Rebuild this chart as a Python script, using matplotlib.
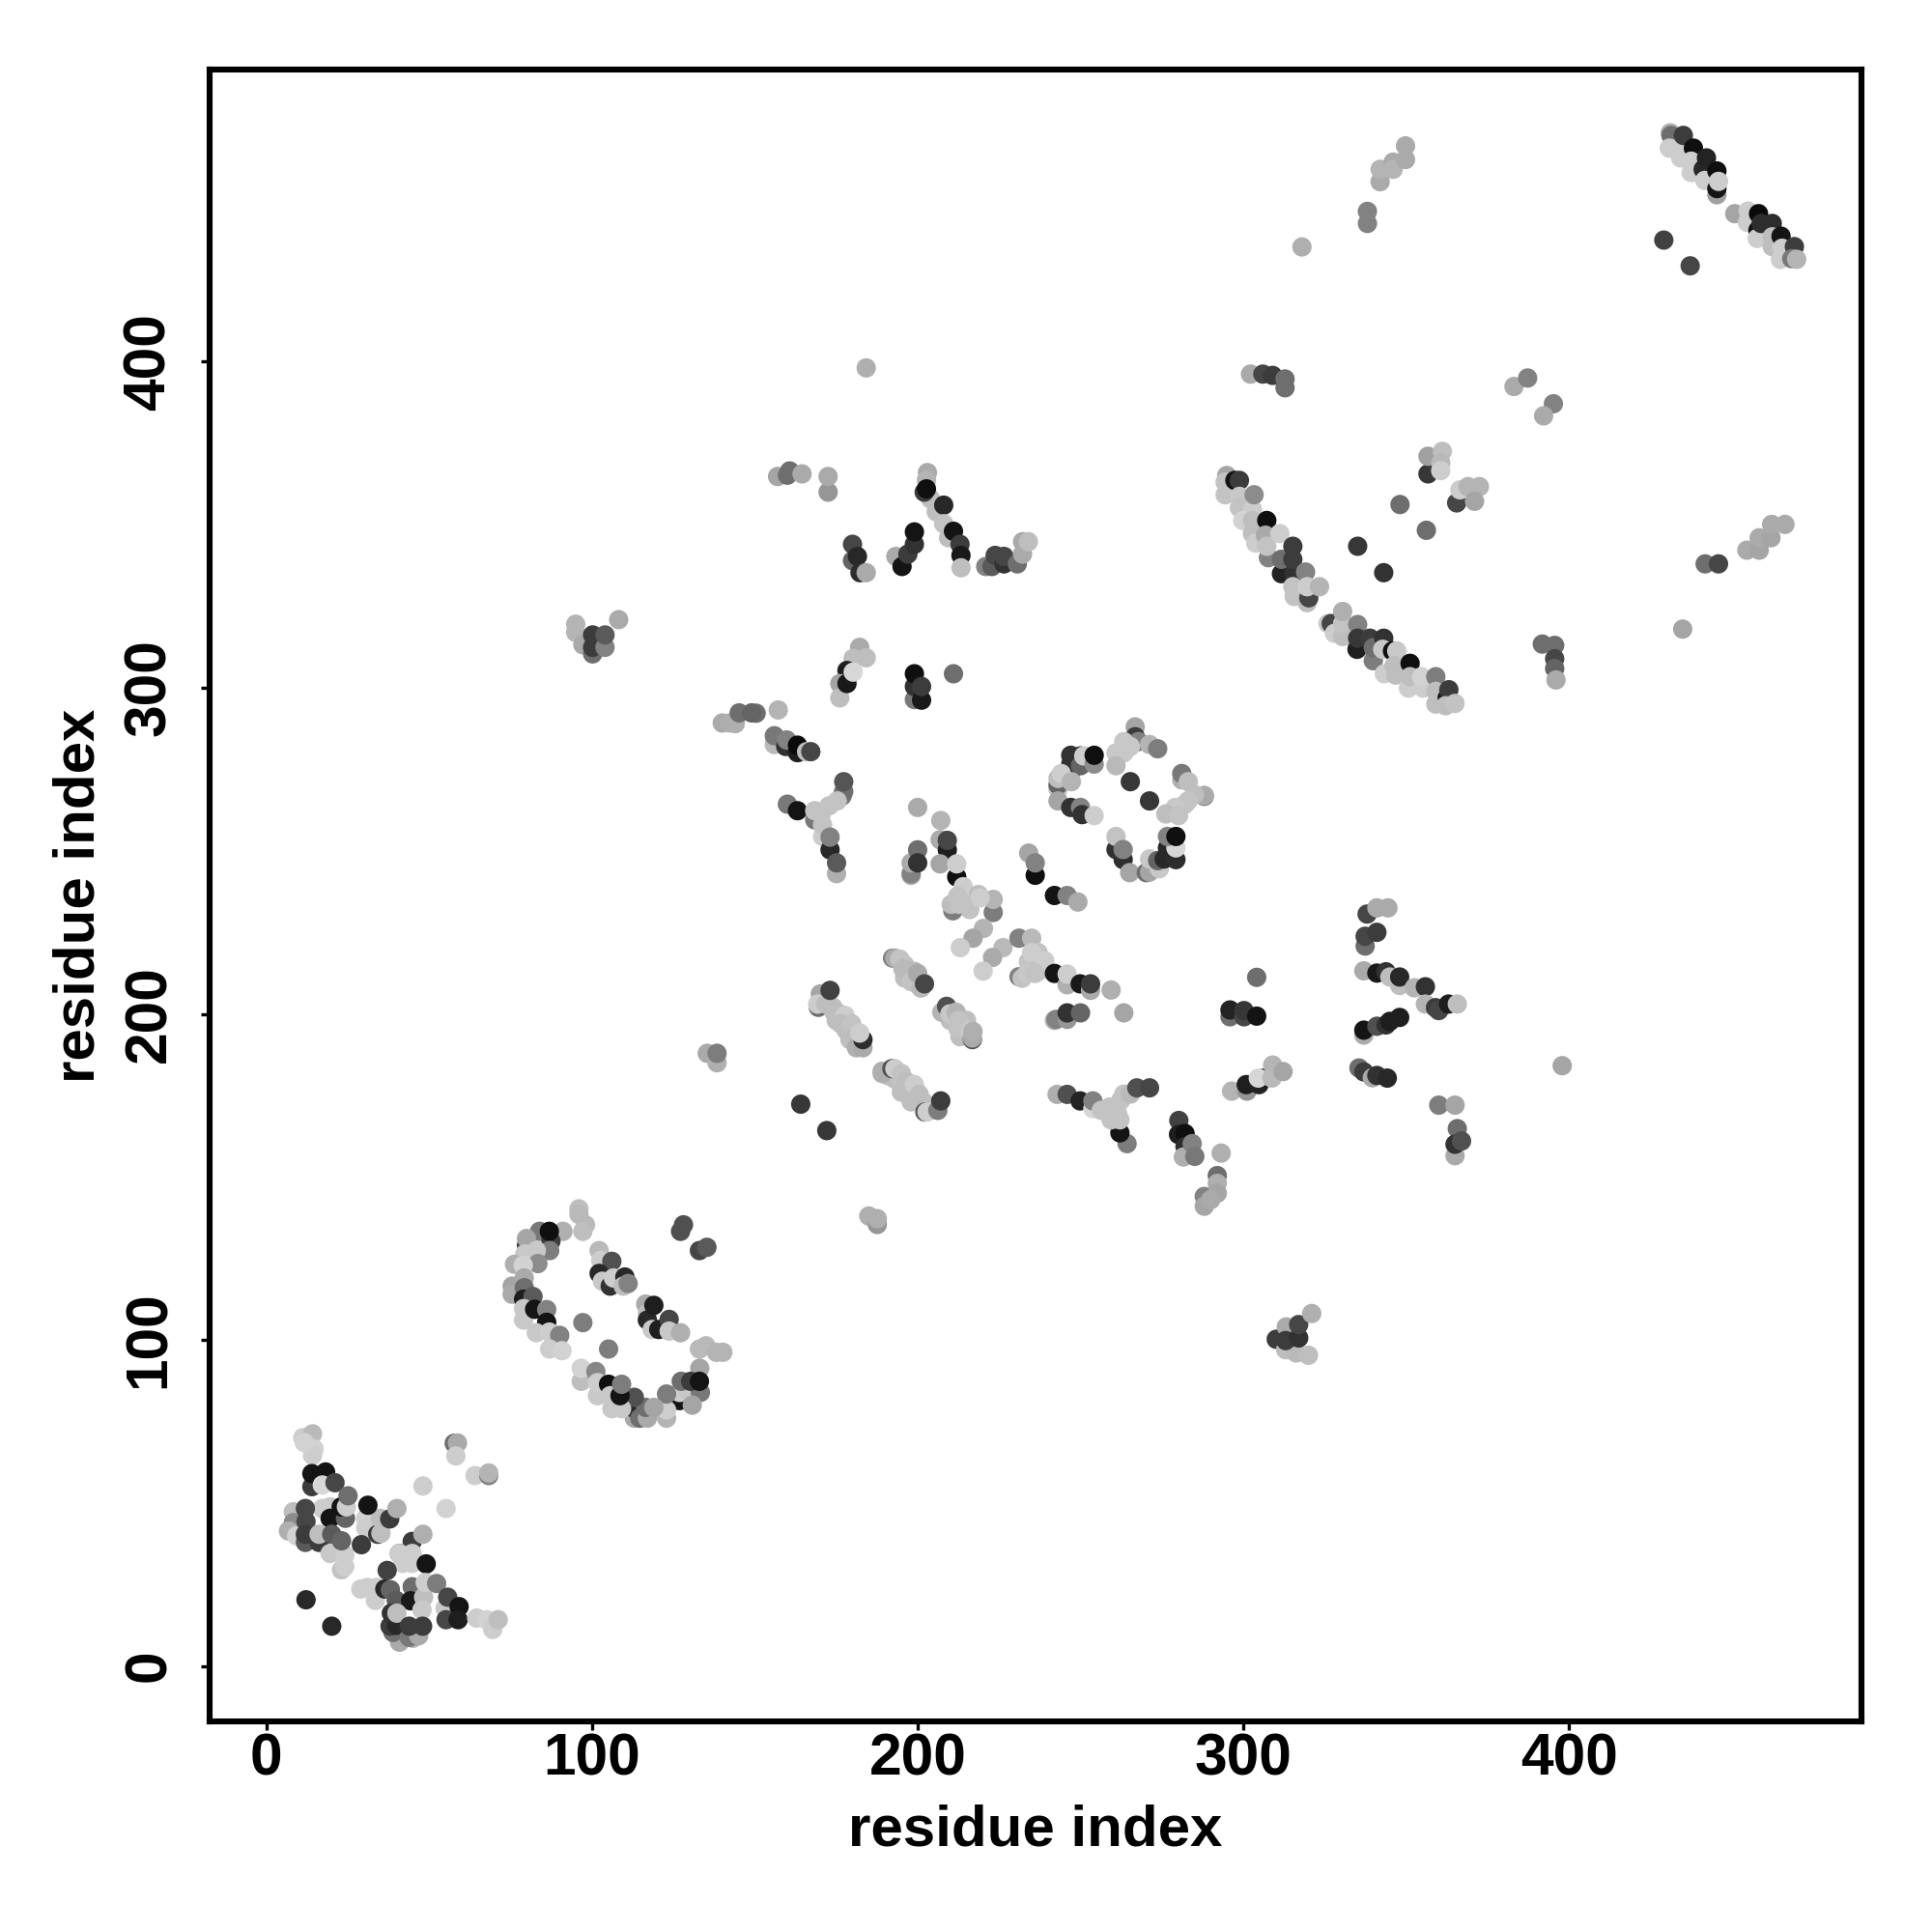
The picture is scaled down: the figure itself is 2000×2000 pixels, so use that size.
import matplotlib
matplotlib.use('Agg')
import matplotlib.pyplot as plt
import numpy as np

plt.rcParams['font.family'] = ['Liberation Sans', 'DejaVu Sans']

# contacts: (residue x, residue y, grey level 0-255), one list per cluster
cluster_fill = [
    (172,204,190),(174,202,190),(176,200,190),(178,198,190),(180,196,195),(182,192,190),(175,198,190),(178,195,190),
    (191,181,190),(193,180,190),(195,179,195),(197,177,195),(199,175,195),(201,173,190),(203,171,190),(195,176,190),(198,173,190),
    (196,215,190),(198,211,190),(200,209,190),(199,213,185),(196,211,190),
    (210,198,190),(214,196,190),(213,193,190),(215,198,190),
    (216,232,195),(214,234,195),(237,213,195),(234,216,195),
]

cluster_start = [
    (11.2,70,205),(14.2,71.2,185),(14.7,66.6,210),(14.2,64.6,205),(11.7,68.5,210),
    (14,55,60),(14,59,20),(18.2,59.5,20),(17.2,55.5,215),(21.1,56.2,70),(19.6,48.8,200),(17.2,48.3,205),
    (19.6,45.3,20),(24.3,45.3,100),(23,48.8,20),(24.6,48.8,205),(25.1,52.2,110),
    (30.5,45.3,210),(30.5,42.4,205),(34.2,40.4,60),(35.2,40.7,190),(35,45.3,190),(37.9,45.1,60),(40.1,48.3,175),(31.2,49.3,20),
    (8.3,47.3,190),(8.3,44,140),(6.8,41.4,175),(9.3,39.9,210),(12,37.9,90),(12,48.3,70),(12.2,44.3,70),(12,40.4,60),
    (16.2,37.9,60),(16.2,40.4,190),(20.1,40.4,90),(19.6,34.5,200),(23.1,29.5,195),(24.1,30.5,205),(24.1,34,205),(23.1,38.4,100),(29.2,37.2,60),
    (40.9,34.5,70),(44.8,38.2,60),(48.1,40.4,175),(40.9,34.5,205),(44.8,34.5,205),(41.9,31.5,205),(44.8,31.5,205),(49.1,31.3,20),(37.1,29.3,65),
    (29,23.6,205),(31,24.1,205),(34,24.1,205),(33.5,20.1,205),(36.4,23.6,40),(38.1,23.4,100),(39.9,20.1,90),
    (44.8,24.3,110),(44.3,20,25),(48.3,21.1,190),(47.8,17.2,200),(48.8,25.6,205),(52.3,25.3,125),
    (54.9,17.7,200),(55.7,21.1,70),(55.2,14.2,70),(59.2,18.2,20),(58.9,14.2,30),
    (64.6,14.7,205),(67.6,14.2,210),(69.5,11.2,205),(71.2,14.2,190),
    (40.9,7.3,170),(38.9,10.3,110),(38,12.2,60),(40,12.5,40),(38.4,16.2,50),(40.1,16.2,190),
    (45,8.5,180),(43.9,8.8,120),(46.8,9.3,170),(43.9,12.2,60),(48,12.2,60),
    (12.2,20.3,40),(20.1,12.2,40),
    (57.7,68.3,110),(58.7,68.4,170),(58.2,64.4,205),(64.1,58.4,205),(68.3,58.4,130),(68.3,59.2,180),(48.1,55.2,205),(55.2,48.3,210),
]

cluster_ring1 = [
    (96,140.2,190),(96,138.5,185),(98,135.3,185),(97.2,133.3,190),(91.1,133.3,175),(83.9,133.3,120),(87.4,130.3,60),(86.9,133.3,15),(87,127.4,125),
    (79.9,129,60),(79.9,131.1,165),(82.4,126.4,20),(82.9,127.4,200),(79.4,126.4,200),(83.4,123.4,140),(76.2,123.2,175),(78.9,122.9,210),
    (75.5,116.5,165),(75.5,114,170),(79.2,119,170),(79.2,116,110),(79,112.5,30),(81.9,113.3,90),(79,106.1,200),(79,109.6,200),
    (82.4,109.4,20),(86.1,109.3,130),(86.1,105.4,20),(82.9,102.2,200),(86.9,102.4,205),(90.1,101.4,130),(87,97.2,205),(90.8,96.7,210),
    (97.2,105.3,125),(105.1,97.2,125),
    (102.2,127.4,185),(102.7,124.4,205),(106.1,124.1,80),(102.2,120.4,40),(103.2,118,200),(105.6,116.5,50),(106.6,119,205),(110.1,119.3,40),(109.6,116.5,190),(111.1,117.3,130),
    (116.5,111,170),(117,108.1,190),(117,106.1,40),(119,110.6,30),(118.5,103.2,200),(120.5,103.2,30),(123.7,106.3,70),(123.7,102.7,200),(127.2,102.2,175),
    (127.2,133.3,80),(128.1,135.3,80),(133,127.4,70),(135.3,128.4,90),
    (133,97.2,185),(135,98.2,185),(138.2,96.2,180),(140.2,96.2,180),(133.1,91.3,165),
    (126.9,81.4,20),(126.9,83.9,205),(129.8,83.9,200),(133.3,83.9,120),(130.8,80,165),(127.4,87.3,110),(130.3,87.3,60),(133,87.3,20),
    (122.9,76,180),(122.9,78.5,205),(122.9,83.4,125),(113,76,170),(113,79,40),(114.7,76,110),(117,76,170),(116.5,79.3,110),(119,79.3,165),(113,82.4,80),
    (96.7,87.3,190),(96.7,91.3,210),(101.2,90.3,135),(101.7,82.9,200),(101.7,86.9,205),(105.1,86.4,15),(105.6,82.9,200),(106.1,78.9,200),(109.1,78.9,200),(108.6,82.9,20),(109.1,86.4,125),
]

cluster_middle_top = [
    (182.2,312.4,170),(180.2,309,190),(184.2,309.2,190),(178.3,305.3,30),(176.1,301.3,165),(176.1,296.9,190),(178.3,301.3,25),(180.2,304.8,215),
    (199,296.4,120),(199,300.4,50),(199,304.3,15),(201.2,296.2,25),(201.2,300.4,60),(211,304.3,110),
    (150.4,292.2,110),(157.2,293.2,180),(140,289.2,170),(142.2,289.2,175),(144,289,175),(145.2,292.3,110),(149,292.3,100),
    (156,282.6,185),(156,285.3,120),(159.5,282,50),(159.8,284,130),(163.1,280.1,30),(163.1,282.4,10),(165.9,280.4,190),(167.2,280.4,70),
    (176.8,266.8,120),(177.3,268.2,110),(177.3,271.2,85),(160,264.3,120),(163.1,262.3,20),
    (168.4,259.5,120),(170.4,258.5,120),(168.4,262.3,195),(170.4,261.3,195),(172.8,263.8,195),(175.3,265.3,195),
    (170.8,254.4,205),(170.8,257.9,195),(173.1,250.3,40),(173.1,254.2,130),(175.1,243,175),(175.1,246.3,90),
    (200,263.3,170),(207.1,259.3,180),(206.9,253.4,170),(209.1,250.3,30),(209.1,253.2,70),(212,242,15),(206.9,246,165),(212,246,205),
    (198,242.5,170),(198,243,130),(198,246.3,170),(200,250.3,110),(200,246.3,50),
    (234.1,249.3,165),(236.1,242.5,15),(236.1,246.3,130),
]

cluster_stripes = [
    (214,239,205),(218.7,236.6,190),(223.2,231.1,125),(223.2,235.1,180),(210.8,231.6,125),(210.3,233.6,190),(212.3,236.1,195),(212.8,233.6,195),(219.2,235.6,205),
    (220.2,226.2,180),(217,223.2,165),(213.1,220.3,205),(226.2,220.3,185),(223,217.3,170),(220.1,213.1,205),
    (231.1,223.2,130),(235,223.2,185),(237,218.8,195),(235,218.8,205),(239,216.3,205),(231.1,211.4,130),(232.1,210.9,195),(233.6,212.4,200),(236,212.4,195),
    (242,212.4,20),(245.9,208.9,175),(245.9,212.2,205),(249.9,209.2,25),(253.1,207.2,170),(253.1,209.2,60),
    (242,236.3,20),(245.9,236.3,130),(249.2,234.3,170),
    (242,198,180),(242.5,198.3,130),(245.9,198.3,150),(245.9,200.3,50),(250,200.3,100),
    (242.8,175.3,175),(245.9,175.3,80),(249.9,173.3,35),(253.8,170.9,215),(253.8,173.3,130),
    (192.3,217.1,130),(193,217.1,170),(194.5,216.8,195),(195.5,213.8,185),(197,212.9,185),(198,209.9,195),(200,212.4,170),(201,207.9,185),(202.1,209.2,70),
    (207.4,200.5,180),(208.9,202.3,80),(209.9,200,200),(211.8,200.5,180),(212.6,198,195),(212.3,195.6,195),(215.8,195,200),(216.8,192.1,80),(216.8,192.6,170),(217,194.6,175),
    (169.5,202,110),(170.1,206.1,165),(169.3,203,205),(171.8,203,190),(174.3,200.5,190),(177.7,199.5,205),(176.3,197,190),(179.7,197,195),(179.2,192.1,190),
    (181.2,189.6,175),(183.2,189.6,170),(183.2,192.1,45),(182.2,194.1,205),(173.1,207.2,65),
    (189.1,182.4,175),(189.1,181.7,175),(192.1,183.2,80),(193,183.2,205),(195,181.7,195),(196.5,179.3,190),(199,178.3,205),(200.5,175.3,190),(202,172.8,190),
    (202.2,169.9,90),(202.9,169.9,205),(206.2,170.4,125),(207.1,173.3,60),
    (164.1,172.3,55),(172.1,164.2,55),(259.4,207.3,175),(263.3,200.3,165),
]

cluster_ring2 = [
    (247,274.2,110),(247,276.6,50),(247,279.3,50),(250,279.1,50),(250,276.1,100),(251,279.1,205),(254.2,276.6,140),(254.2,279.3,15),
    (243.1,268.8,200),(243.1,270.2,100),(243.1,272.2,190),(244.1,273.7,205),(247.2,271.2,180),
    (243.1,265.3,165),(247,263.3,50),(250,263.3,130),(250.5,261.1,50),(254.2,260.8,205),
    (266.8,288,165),(266.8,285,60),(267.8,283.5,130),(263.3,283.5,200),(265.3,282,200),(263.3,280,200),(260.9,280,200),(260.9,276.1,185),(271.2,282.6,180),(273.7,281.3,125),
    (265.3,271.2,55),(271.2,265.3,55),
    (281.1,271.8,175),(281.1,273.7,120),(283.1,271.2,190),(288,266.7,125),(288,267,170),(285,267.2,190),(283,265.3,195),(282.1,264.3,195),(279.1,263.3,200),(276.2,261.3,190),(280.1,260.8,195),
    (263.1,247.3,45),(260.9,250.4,50),(260.9,254.4,195),(263.1,250.4,130),(265.1,243.3,165),
    (270.2,243.3,110),(271.2,243.5,165),(271.2,247.5,200),(274.2,244.5,200),(273.7,247,100),(275.7,247.5,40),(279.3,247.3,45),(276.7,250.9,40),(279.3,250.9,215),(276.7,254.4,130),(279.3,254.4,15),
    (264.3,160.2,125),(262.1,163.5,20),(259.4,167.5,195),(262.1,167.5,195),(261.4,169.4,195),(256.4,170.4,195),(258.9,171.4,195),(262.3,173.4,195),(263.3,175.4,195),(265.3,175.4,185),(267.3,177.3,80),(271.2,177.3,70),
    (280.2,167.3,65),(280.1,163,30),(282.1,163.3,15),(282.1,159.3,45),(281.6,156.1,175),(284.3,160.2,130),(285.1,156.3,120),
    (293.2,157.3,175),(292,150.4,110),(292,148,175),(288,144,130),(292,145,165),(288,141,165),(290,143,170),
]

cluster_long_arc = [
    (356.7,365.6,55),(356.7,371,160),(361.1,372.5,190),(360.6,369,185),(360.6,366.6,205),
    (365.5,356.7,70),(366.5,360.7,205),(369,361.7,180),(372.5,361.7,180),(371,357.2,165),
    (348.1,356.2,110),(356.2,348.3,110),(335.1,343.4,55),(343.1,335.3,50),
    (294.4,359.2,195),(294.9,365.1,165),(294.4,363.1,195),(297.4,363.6,20),(298.8,363.6,60),(298.8,358.7,200),(298.8,355.2,195),(302.8,354.7,205),(303.3,359.2,140),
    (299.8,351.3,210),(302.8,351.3,190),(307.2,351.3,15),(302.8,347.3,190),(303.8,344.4,205),(306.8,346.8,170),(307.7,339.9,130),(307.2,343.4,195),(311.2,347.3,205),
    (311.7,335,35),(311.7,339.4,110),(315.6,335,50),(315.2,339.4,60),(315.2,343.4,60),(319.1,335.5,130),
    (315.6,328,195),(315.2,331,195),(319.6,326.1,190),(320.1,327.6,70),(319.6,331,205),(323.4,331,180),
    (326,319.7,200),(327,319.7,70),(328,316.7,205),(330.5,315.7,190),(330.5,319.7,195),(330.5,323.4,175),(335.1,319.4,130),
    (334.9,311.8,30),(335.1,315.2,55),(338.9,315.2,60),(339.9,308.3,125),(339.9,312.3,110),(343.1,315.2,50),(342.8,311.8,200),(345.8,311.3,15),(347.1,311.3,200),
    (343.3,304.3,205),(346.3,306.8,190),(346.8,303.9,190),(351.2,307.5,15),(350.7,299.9,205),(351.2,303.4,190),(355.2,299.9,205),(354.7,303.4,210),(359.1,303.4,125),
    (359.1,295,190),(359.1,298.9,190),(362.6,296.9,20),(363.1,299.4,60),(362.1,294.5,190),(365,295.2,195),
]

cluster_upper_right = [
    (431.1,470.2,175),(431.3,469.4,110),(430.8,465.5,205),(434.3,466,205),(434.3,462.5,205),(435.1,469.4,60),(438.2,465.5,15),(437.5,458,205),(437.5,461.5,205),
    (441.2,459,40),(442.2,462.5,35),(441.7,455.6,205),(445.4,451.2,160),(445.4,453.1,20),(445.4,458.5,15),(445.9,455.3,205),
    (450.9,445.4,165),(454.8,442.7,205),(455,446.2,205),(458.2,445.4,10),(458,440.3,20),(457.8,437.8,205),(459,442.4,45),(462.4,442.4,45),
    (462.4,435.3,190),(462.4,438.3,190),(465.1,438.5,20),(465.4,434.8,205),(464.9,431.4,205),(469.2,435.3,60),(468.4,431.6,120),(469.9,431.4,180),
    (429.1,437.3,65),(437.2,429.4,70),
    (318,435.2,175),(338.1,442.4,130),(338.1,446.1,130),(342,455.2,170),(342,459,180),(346,461.2,170),(346,459,180),(349.8,462,170),(349.8,466.2,170),
    (383.1,392.4,170),(387.3,395,130),(395.2,387.1,130),(392.2,383.4,170),
    (302.2,396.2,170),(306,396.2,70),(309,395.8,60),(312.8,392,110),(312.8,394.7,110),
    (434.9,318,165),(441.8,338,110),(445.9,338,70),(454.6,342.2,170),(458.4,342.2,165),(458.4,346,170),(462,346,165),(462.2,350.1,170),(466.3,350.1,170),
    (391.8,313.4,110),(395.6,313,110),(395.6,308.9,70),(395.6,305.9,100),(396,302.4,170),
    (397.9,184.1,165),
]

cluster_lower_right = [
    (304.1,211.2,110),(295.9,199.1,110),(295.9,201.2,35),(300.2,199.1,70),(300.2,201,55),(304.1,199.3,20),
    (296.4,176.3,180),(301.1,176.3,150),(300.9,178.3,30),(304.8,178.3,35),(306.3,180.3,20),(304.6,180.3,215),(309,184.3,180),(308.8,180.3,185),(312.2,182.3,165),
    (310.1,100.2,60),(313.2,104,170),(313,97,190),(316.2,96,185),(320,95.3,190),(313,99.8,60),(317,100.6,50),(317,104.7,70),(321,108.1,175),
    (338,230.6,70),(341,232.5,170),(344.4,232.5,170),(337.4,220.8,110),(337.4,223.8,70),(341,225,60),(337,213.2,170),(341,212.5,25),(343.8,212.9,50),(345,211.3,190),(348,208.7,190),(348,211.3,40),
    (352.5,208,180),(355.9,208.3,50),(355.9,203,180),(359,201.9,60),(360,201,70),(363,203,30),(365.7,203,190),
    (337,193.5,170),(337,195,20),(341,196.2,80),(343.8,196.6,50),(345,197.7,30),(348,198.9,30),
    (335.5,183.4,110),(337,182.2,60),(339.6,180.4,170),(341,181.1,50),(344.2,180.3,40),
    (360,172,125),(365,172,165),(365,156.5,170),(365.7,164.8,110),(365,160,50),(367,161,80),
]

cluster_isolated = [
    (95,319.5,180),(95,317,180),(97.2,313.2,170),(100.2,310.4,110),(100.2,312.4,60),(100.2,316.2,60),(104,312.4,130),(104,316.2,90),(108.2,320.9,170),
    (135.4,187.9,170),(138.4,185,175),(138.4,187.9,125),(185,138,175),(187.6,135.4,150),(187.6,137.2,175),
    (157,364.8,165),(160,365.2,110),(160.7,366.5,110),(164.5,365.6,170),(172.5,360,150),(172.5,364.8,170),(184.2,398.1,175),
    (180,339,100),(180,344,70),(181.5,340.3,40),(182.3,335.3,45),(184.2,335.3,170),
    (193.3,340.3,170),(195.2,337.2,20),(197,341,60),(199,344,50),(199,347.8,20),
    (203,366,170),(202.7,363.7,180),(203.9,358,190),(202,360,60),(202.7,361,15),(205.7,354,190),(208,356,40),(208,350.3,195),(209.5,346,190),(211,348,20),(213,344,60),(213.3,340.6,25),(213.3,336.8,190),
    (220.9,337.2,130),(222.8,337.2,90),(223.8,340.6,70),(226.5,338,50),(226.5,340.3,70),(230.6,338,110),(232.2,341,170),(232.2,344.8,170),(234,344.8,190),
]

clusters = [cluster_fill, cluster_start, cluster_ring1, cluster_middle_top, cluster_stripes,
            cluster_ring2, cluster_long_arc, cluster_upper_right, cluster_lower_right, cluster_isolated]

tick_values = [0, 100, 200, 300, 400]

fig = plt.figure(figsize=(10, 10), dpi=200)
ax = fig.add_axes([0.1085, 0.109, 0.855, 0.855])

for cluster in clusters:
    points = np.array(cluster, dtype=float)
    greys = np.repeat(points[:, 2:3] / 255, 3, axis=1)
    ax.scatter(points[:, 0], points[:, 1], c=greys, s=52, linewidths=0, zorder=3)

ax.set_xlim(-17.4, 489.8)
ax.set_ylim(-17.0, 489.6)
ax.set_xticks(tick_values)
ax.set_yticks(tick_values)
ax.tick_params(axis='both', length=3.4, width=1.2, labelsize=21.8)
ax.tick_params(axis='x', pad=0.6)
ax.tick_params(axis='y', pad=8.5)
for label in ax.get_xticklabels():
    label.set_fontweight('bold')
for label in ax.get_yticklabels():
    label.set_fontweight('bold')
    label.set_rotation(90)
    label.set_va('center')
for spine in ax.spines.values():
    spine.set_linewidth(2.2)

ax.set_xlabel('residue index', fontsize=21.6, fontweight='bold', labelpad=6.3)
ax.set_ylabel('residue index', fontsize=21.6, fontweight='bold', labelpad=6.2)

fig.savefig('out.png', dpi=200)
